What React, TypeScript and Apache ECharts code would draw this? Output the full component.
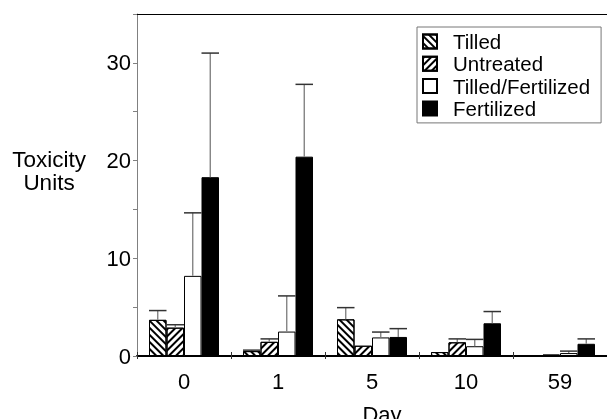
import React, { useEffect, useRef } from "react";
import * as echarts from "echarts";

const days = ["0", "1", "5", "10", "59"];
const seriesNames = ["Tilled", "Untreated", "Tilled/Fertilized", "Fertilized"];
const tilled = [3.7, 0.5, 3.75, 0.4, 0.0];
const tilledErr = [4.65, 0.6, 4.95, null, null];
const untreated = [2.9, 1.45, 1.05, 1.4, 0.15];
const untreatedErr = [3.2, 1.75, null, 1.75, null];
const tilledFert = [8.2, 2.5, 1.9, 1.0, 0.3];
const tilledFertErr = [14.65, 6.15, 2.45, 1.7, 0.5];
const fert = [18.3, 20.4, 1.95, 3.35, 1.25];
const fertErr = [31.0, 27.8, 2.8, 4.55, 1.75];
const yTicks = [0, 10, 20, 30];

const FONT = "'Liberation Sans', Arial, Helvetica, sans-serif";
const BW = 17.5;

export default function App() {
  const ref = useRef<HTMLDivElement>(null);
  useEffect(() => {
    const chart = echarts.init(ref.current!, null, { renderer: "svg" });
    const values = [tilled, untreated, tilledFert, fert];
    const errs = [tilledErr, untreatedErr, tilledFertErr, fertErr];
    const stripe = (rot: number) => ({
      symbol: "rect",
      symbolSize: 1,
      dashArrayX: [1, 0],
      dashArrayY: [2, 3],
      rotation: rot,
      color: "#000",
    });
    const styles: any[] = [
      { color: "#fff", borderColor: "#000", borderWidth: 1, decal: stripe(Math.PI / 4) },
      { color: "#fff", borderColor: "#000", borderWidth: 1, decal: stripe(-Math.PI / 4) },
      { color: "#fff", borderColor: "#000", borderWidth: 1 },
      { color: "#000", borderColor: "#000", borderWidth: 1 },
    ];
    const barSeries = seriesNames.map((name, i) => ({
      name,
      type: "bar",
      data: values[i],
      barWidth: BW,
      barGap: "0%",
      itemStyle: styles[i],
      z: 2,
    }));
    const errSeries = seriesNames.map((name, i) => ({
      type: "custom",
      name: name + "-err",
      data: days
        .map((d, k) => [k, values[i][k], errs[i][k]])
        .filter((r) => r[2] !== null),
      z: 3,
      renderItem: (params: any, api: any) => {
        const base = api.coord([api.value(0), api.value(1)]);
        const top = api.coord([api.value(0), api.value(2)]);
        const x = base[0] + (i - 1.5) * BW;
        return {
          type: "group",
          children: [
            {
              type: "line",
              shape: { x1: x, y1: base[1], x2: x, y2: top[1] },
              style: { stroke: "#7a7a7a", lineWidth: 1.3 },
            },
            {
              type: "line",
              shape: { x1: x - BW / 2, y1: top[1], x2: x + BW / 2, y2: top[1] },
              style: { stroke: "#333", lineWidth: 1.5 },
            },
          ],
        };
      },
    }));
    chart.setOption({
      animation: false,
      grid: { left: 137, top: 14, bottom: 63, right: -8.5 },
      legend: {
        data: seriesNames,
        orient: "vertical",
        left: 417,
        top: 27,
        itemWidth: 14,
        itemHeight: 14,
        itemGap: 1.3,
        padding: [4, 11, 4, 5],
        borderColor: "#777",
        borderWidth: 1,
        icon: "rect",
        textStyle: { fontFamily: FONT, fontSize: 20.5, color: "#000", padding: [0, 0, 0, 11] },
      },
      xAxis: [
        {
          type: "category",
          data: days,
          position: "bottom",
          axisLine: { lineStyle: { color: "#000", width: 2 } },
          axisTick: { show: true, length: 3, lineStyle: { color: "#333" } },
          axisLabel: { fontFamily: FONT, fontSize: 22, color: "#000", margin: 14 },
        },
        {
          type: "category",
          data: days,
          position: "bottom",
          axisLine: { show: false },
          axisTick: { show: true, inside: true, length: 4, lineStyle: { color: "#333" } },
          axisLabel: { show: false },
        },
        {
          type: "category",
          data: days,
          position: "top",
          axisLine: { show: true, lineStyle: { color: "#000", width: 1 } },
          axisTick: { show: false },
          axisLabel: { show: false },
        },
      ],
      yAxis: {
        type: "value",
        min: 0,
        max: 35,
        interval: 5,
        splitLine: { show: false },
        axisLine: { show: true, lineStyle: { color: "#808080", width: 1 } },
        axisTick: { show: true, length: 4, lineStyle: { color: "#808080" } },
        axisLabel: {
          fontFamily: FONT,
          fontSize: 22,
          color: "#000",
          margin: 6,
          formatter: (v: number) => (yTicks.includes(v) ? String(v) : ""),
        },
      },
      graphic: [
        {
          type: "text",
          x: 49,
          y: 148,
          style: {
            text: "Toxicity",
            font: `22.5px ${FONT}`,
            fill: "#000",
            align: "center",
            verticalAlign: "top",
          },
        },
        {
          type: "text",
          x: 49,
          y: 171,
          style: {
            text: "Units",
            font: `22.5px ${FONT}`,
            fill: "#000",
            align: "center",
            verticalAlign: "top",
          },
        },
        {
          type: "text",
          x: 382,
          y: 403,
          style: {
            text: "Day",
            font: `22px ${FONT}`,
            fill: "#000",
            align: "center",
            verticalAlign: "top",
          },
        },
      ],
      series: [...barSeries, ...errSeries],
    });
    return () => chart.dispose();
  }, []);
  return (
    <div
      ref={ref}
      style={{ position: "fixed", left: 0, top: 0, width: 607, height: 419, overflow: "hidden" }}
    />
  );
}
